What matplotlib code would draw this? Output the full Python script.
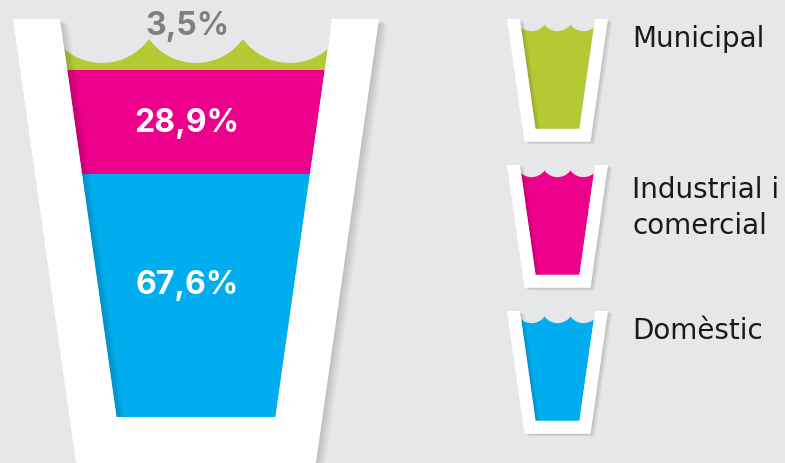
import matplotlib
matplotlib.use('Agg')
import matplotlib.pyplot as plt
from matplotlib.patches import Polygon, Rectangle, Circle

# Data (stacked from top of glass to bottom)
categories = ['Municipal', 'Industrial i\ncomercial', 'Domèstic']
values = [3.5, 28.9, 67.6]
labels = ['3,5%', '28,9%', '67,6%']
colors = ['#b5c935', '#ec008c', '#00aeef']

BG = '#e6e7e8'
LABEL_GREY = '#7f7f80'

# Glass geometry (in pixels of the big glass)
HALF_TOP = 183
WALL = 47
DEPTH_IN = 398
DEPTH_OUT = 445
SLOPE = 0.142
PX_PER_PCT = 3.6
WAVE_R = 58
WAVE_STEP = 94


def glass_shapes(cx, top, s):
    ho = HALF_TOP * s
    hi = ho - WALL * s
    d_in = DEPTH_IN * s
    d_out = DEPTH_OUT * s
    wall = [
        (cx - ho, top),
        (cx - ho + SLOPE * d_out, top + d_out),
        (cx + ho - SLOPE * d_out, top + d_out),
        (cx + ho, top),
        (cx + hi, top),
        (cx + hi - SLOPE * d_in, top + d_in),
        (cx - hi + SLOPE * d_in, top + d_in),
        (cx - hi, top),
    ]
    inner = [
        (cx - hi, top),
        (cx - hi + SLOPE * d_in, top + d_in),
        (cx + hi - SLOPE * d_in, top + d_in),
        (cx + hi, top),
    ]
    return wall, inner


def draw_glass(ax, cx, top, s, vals, cols):
    wall, inner = glass_shapes(cx, top, s)
    clip = Polygon(inner, closed=True, facecolor='none', edgecolor='none')
    ax.add_patch(clip)

    bottom = top + DEPTH_IN * s
    width = 2 * HALF_TOP * s
    spans = []
    y = bottom
    # fill from bottom upwards (last value sits at the bottom)
    for v, c in zip(reversed(vals), reversed(cols)):
        h = v * PX_PER_PCT * s
        r = Rectangle((cx - width / 2, y - h), width, h, facecolor=c,
                      edgecolor='none', zorder=1)
        ax.add_patch(r)
        r.set_clip_path(clip)
        spans.append((y - h, y))
        y -= h
    level = y
    # top layer extends up into the wave crests
    r = Rectangle((cx - width / 2, level - 25 * s), width, 25 * s,
                  facecolor=cols[0], edgecolor='none', zorder=1)
    ax.add_patch(r)
    r.set_clip_path(clip)

    # scalloped water surface
    cy = level + 6 * s - WAVE_R * s
    for k in range(-2, 3):
        c = Circle((cx + k * WAVE_STEP * s, cy), WAVE_R * s, facecolor=BG,
                   edgecolor='none', zorder=2)
        ax.add_patch(c)
        c.set_clip_path(clip)

    # soft shadow of the white glass
    step = 0.9 * s ** 0.5
    for i in range(1, 11):
        sh = [(x + i * step, yy + i * 0.6 * step) for x, yy in wall]
        ax.add_patch(Polygon(sh, closed=True, facecolor='black', edgecolor='none',
                             alpha=0.017, zorder=3))
    ax.add_patch(Polygon(wall, closed=True, facecolor='white', edgecolor='none',
                         zorder=4))
    return list(reversed(spans)), level


fig = plt.figure(figsize=(7.85, 4.64), dpi=100)
fig.patch.set_facecolor(BG)
ax = fig.add_axes([0, 0, 1, 1])
ax.set_facecolor(BG)
ax.set_xlim(0, 785)
ax.set_ylim(464, 0)
ax.axis('off')

# Big glass with stacked shares
big_cx, big_top = 196, 20
spans, level = draw_glass(ax, big_cx, big_top, 1.0, values, colors)
pct_font = dict(fontsize=23, fontweight='bold', family=['Inter', 'DejaVu Sans'])
for lab, (y0, y1) in zip(labels, spans):
    h = y1 - y0
    if h < 30:
        ax.text(big_cx - 9, big_top + 7, lab, ha='center', va='center',
                color=LABEL_GREY, zorder=6, **pct_font)
    else:
        ax.text(big_cx - 9, y0 + min(h / 2, 110) + 1, lab, ha='center', va='center',
                color='white', zorder=6, **pct_font)

# Legend glasses
small = 0.276
for i, (cat, col) in enumerate(zip(categories, colors)):
    top = 20 + i * 146
    draw_glass(ax, 557.5, top, small, [100], [col])
    dy = 5 if '\n' not in cat else 10
    ax.text(632, top + dy, cat, ha='left', va='top', fontsize=20,
            family='DejaVu Sans', color='#1a1a1a', linespacing=1.38, zorder=6)

fig.savefig('out.png', dpi=100, facecolor=BG)
